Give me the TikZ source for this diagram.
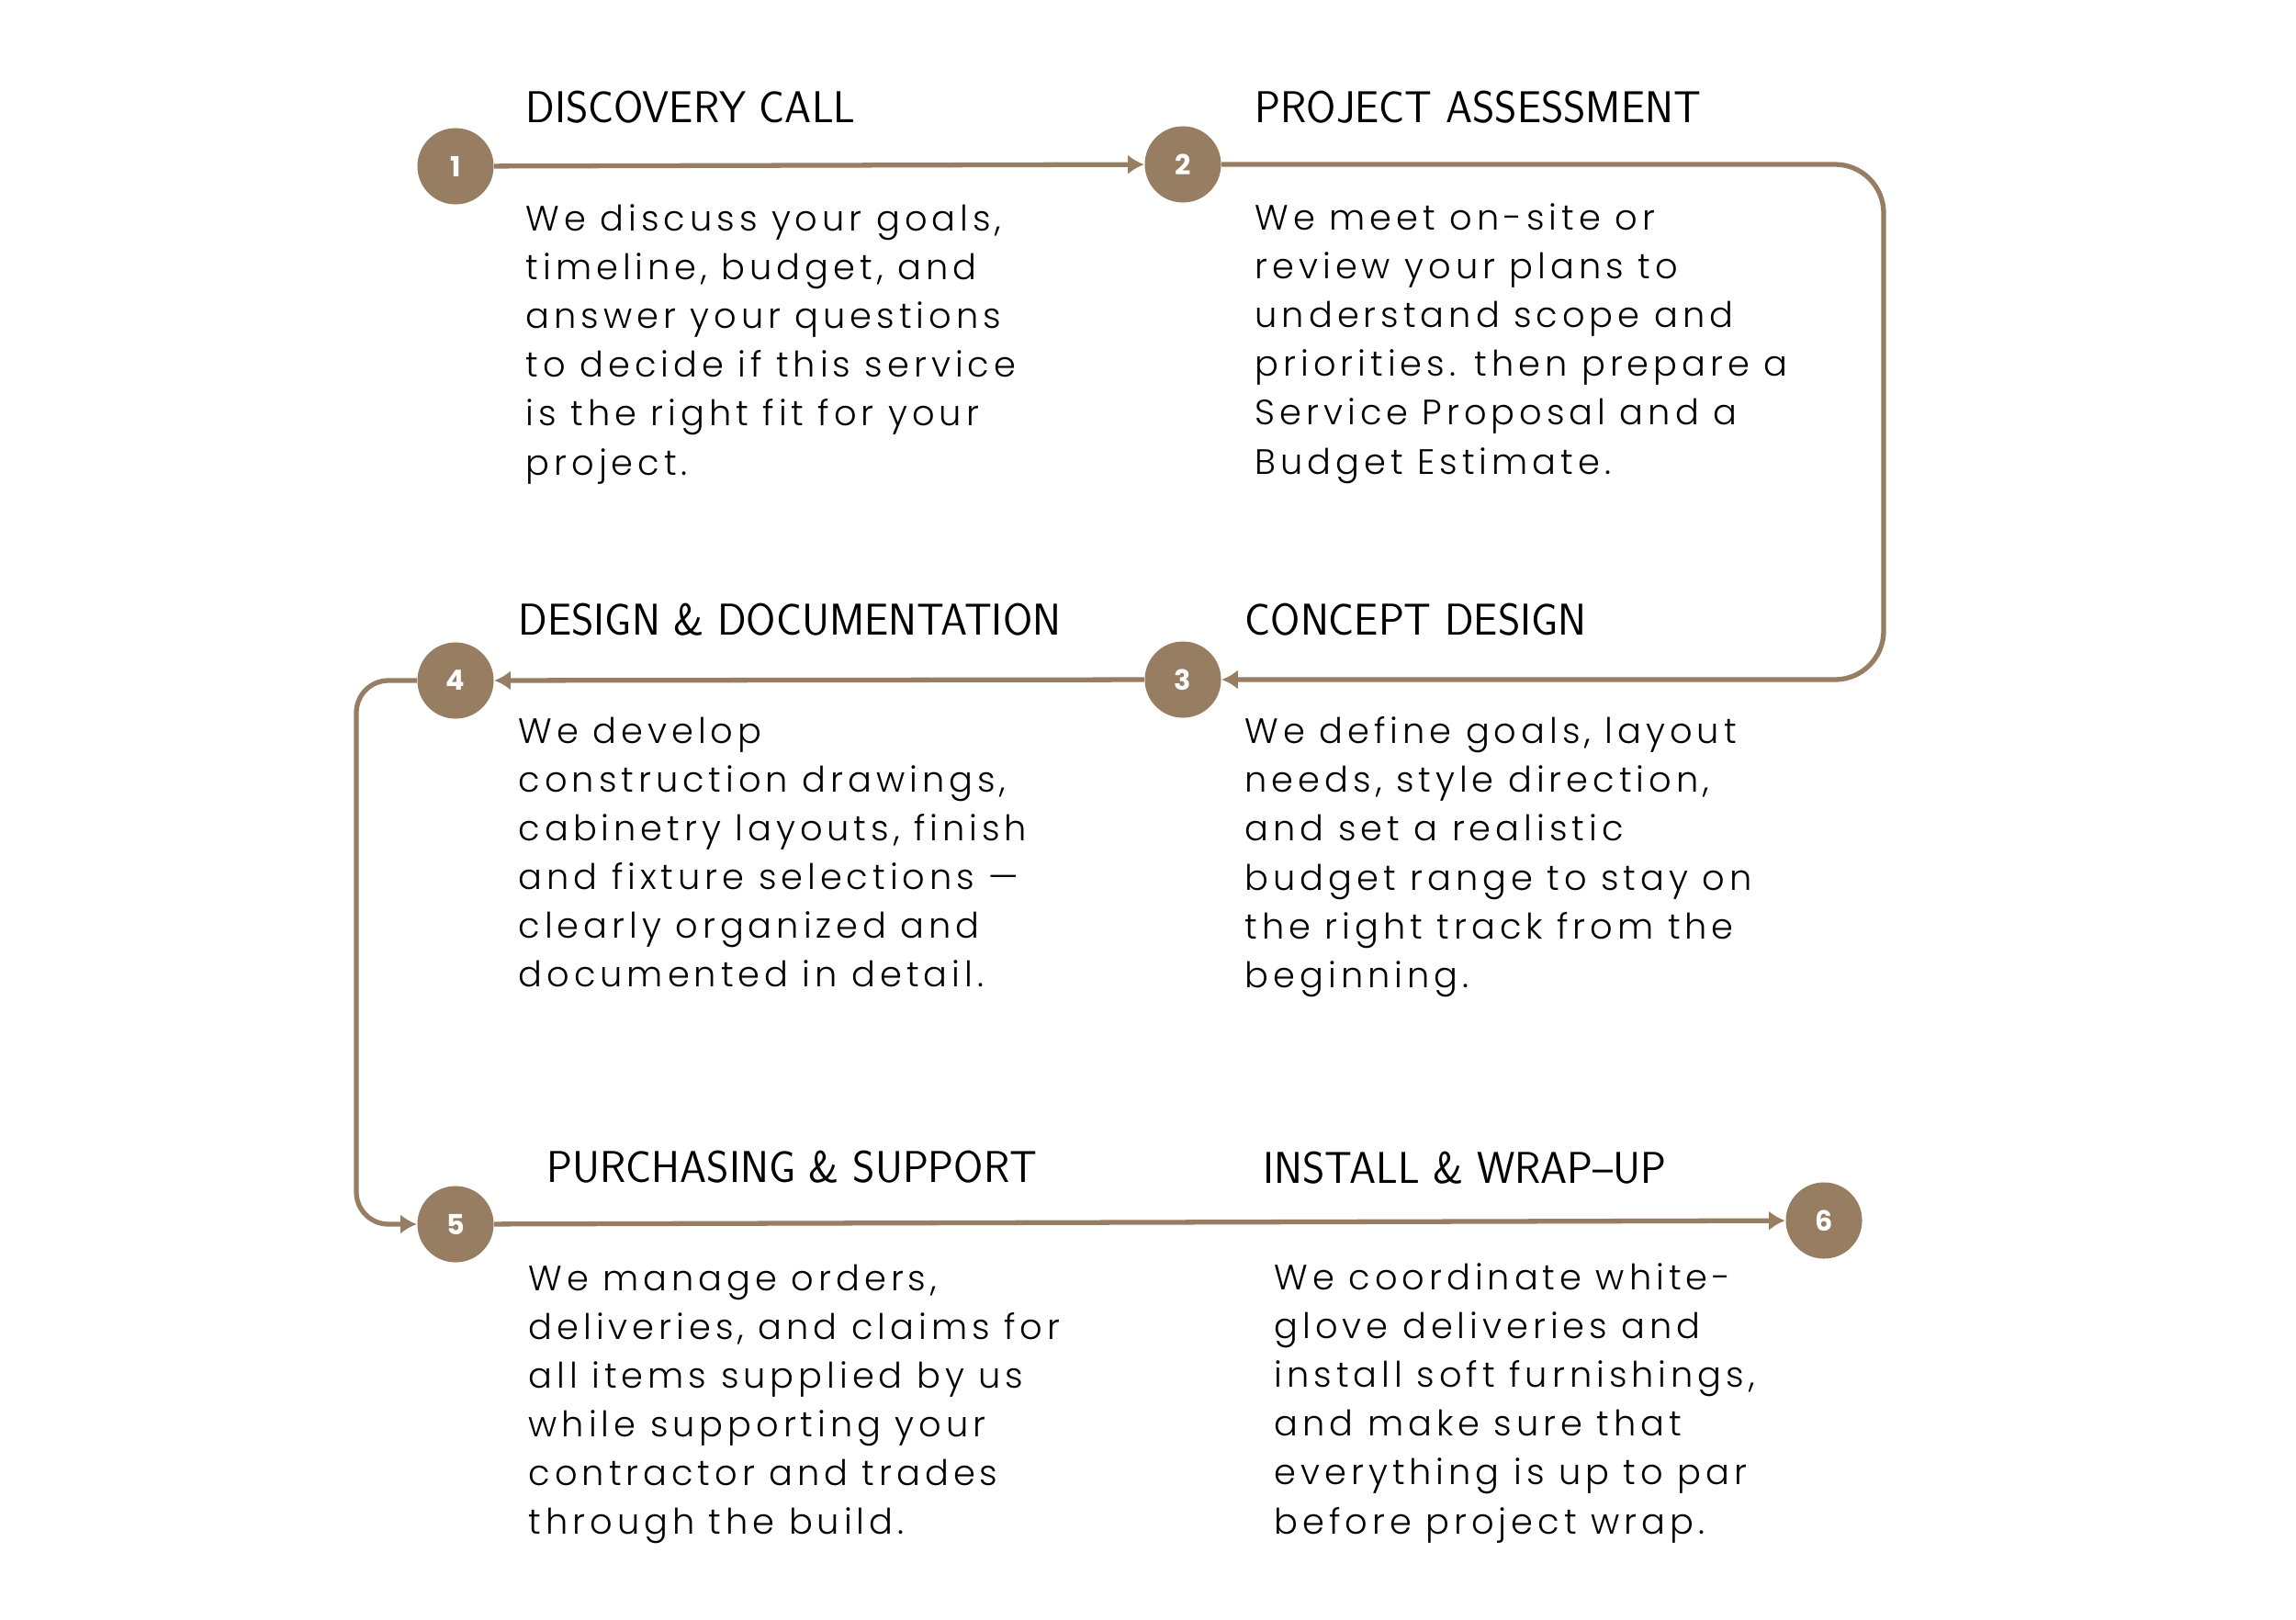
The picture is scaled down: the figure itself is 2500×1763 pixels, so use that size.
\documentclass[tikz,border=0pt]{standalone}
\usepackage{fontspec}
\setmainfont{Poppins}[UprightFont=* Light,LetterSpace=13]
\newfontfamily\numfont{Poppins}
\newfontfamily\titlefont{lmsans17-regular.otf}[FakeStretch=0.96]
\usetikzlibrary{arrows.meta}

\definecolor{stepbrown}{HTML}{977D62}

\tikzset{
  stepdot/.style={circle,fill=stepbrown,minimum size=0.83cm,inner sep=0pt,
    text=white,font=\numfont\fontsize{8.6}{9}\selectfont\bfseries},
  steptitle/.style={anchor=base west,inner sep=0pt,
    font=\titlefont\fontsize{13.8}{14}\selectfont},
  stepbody/.style={anchor=north west,inner sep=0pt,align=left,
    font=\fontsize{10.9}{15.1}\selectfont},
  flow/.style={draw=stepbrown,line width=1.5pt,-{Latex[length=5pt,width=6pt]}},
}

\begin{document}
\begin{tikzpicture}[x=0.01cm,y=-0.01cm]

\fill[white] (0,0) rectangle (2500,1763);
\useasboundingbox (0,0) rectangle (2500,1763);

% step dots
\node[stepdot] (s1) at (496,181)  {1};
\node[stepdot] (s2) at (1288,179) {2};
\node[stepdot] (s3) at (1288,740) {3};
\node[stepdot] (s4) at (496,741)  {4};
\node[stepdot] (s5) at (496,1333) {5};
\node[stepdot] (s6) at (1986,1329) {6};

\coordinate (rside) at (2051,0);
\coordinate (lside) at (388,0);

% connectors
\draw[flow] (s1) -- (s2);
\draw[flow,rounded corners=0.53cm] (s2) -- (s2 -| rside) -- (s3 -| rside) -- (s3);
\draw[flow] (s3) -- (s4);
\draw[flow,rounded corners=0.35cm] (s4) -- (s4 -| lside) -- (s5 -| lside) -- (s5);
\draw[flow] (s5) -- (s6);

% titles
\node[steptitle] (t1) at (572,133)  {DISCOVERY CALL};
\node[steptitle] (t2) at (1366,133) {PROJECT ASSESSMENT};
\node[steptitle] (t3) at (1355,691) {CONCEPT DESIGN};
\node[steptitle] (t4) at (564,691)  {DESIGN \& DOCUMENTATION};
\node[steptitle] (t5) at (595,1287) {PURCHASING \& SUPPORT};
\node[steptitle] (t6) at (1375,1288) {INSTALL \& WRAP–UP};

% texts
\node[stepbody] (b1) at (572,222) {We discuss your goals,\\ timeline, budget, and\\
  answer your questions\\ to decide if this service\\ is the right fit for your\\ project.};
\node[stepbody] (b2) at (1366,221) {We meet on-site or\\ review your plans to\\
  understand scope and\\ priorities. then prepare a\\ Service Proposal and a\\ Budget Estimate.};
\node[stepbody] (b3) at (1355,780) {We define goals, layout\\ needs, style direction,\\
  and set a realistic\\ budget range to stay on\\ the right track from the\\ beginning.};
\node[stepbody] (b4) at (564,780) {We develop\\ construction drawings,\\
  cabinetry layouts, finish\\ and fixture selections —\\ clearly organized and\\ documented in detail.};
\node[stepbody] (b5) at (575,1376) {We manage orders,\\ deliveries, and claims for\\
  all items supplied by us\\ while supporting your\\ contractor and trades\\ through the build.};
\node[stepbody] (b6) at (1387,1375) {We coordinate white-\\ glove deliveries and\\
  install soft furnishings,\\ and make sure that\\ everything is up to par\\ before project wrap.};

\end{tikzpicture}
\end{document}
